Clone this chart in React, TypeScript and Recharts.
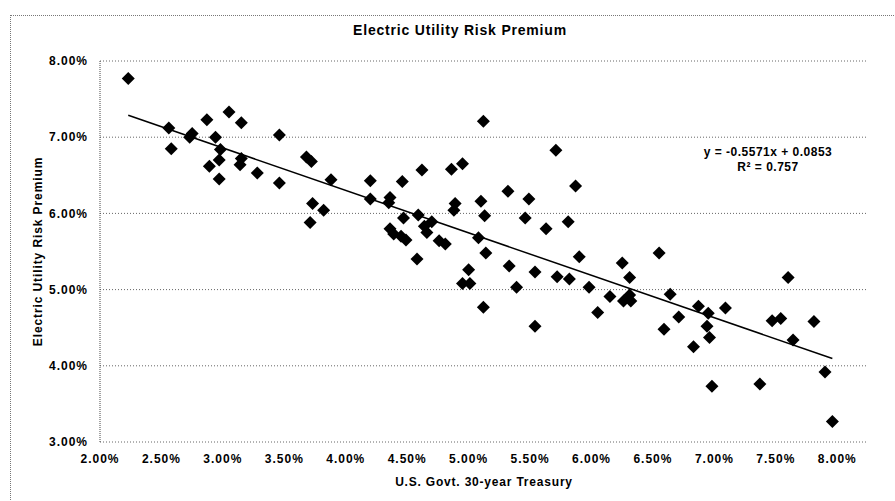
import React from 'react'
import {
  ScatterChart,
  Scatter,
  XAxis,
  YAxis,
  CartesianGrid,
  ReferenceLine,
  Label,
} from 'recharts'

// U.S. Govt. 30-year Treasury yields (x)
const treasury = [
  0.0223, 0.0256, 0.0258, 0.0275, 0.0273, 0.0287, 0.0305, 0.0315, 0.0294, 0.0298,
  0.0297, 0.0289, 0.0297, 0.0315, 0.0314, 0.0328, 0.0346, 0.0346, 0.0368, 0.0372,
  0.0388, 0.0373, 0.0382, 0.0371, 0.042, 0.042, 0.0436, 0.0435, 0.0446, 0.0462,
  0.0486, 0.0495, 0.0489, 0.0488, 0.0447, 0.0459, 0.047, 0.0464, 0.0466, 0.0436,
  0.0439, 0.0445, 0.0449, 0.0476, 0.0481, 0.0458, 0.051, 0.0513, 0.0508, 0.0514,
  0.05, 0.0495, 0.0501, 0.0512, 0.0512, 0.0571, 0.0587, 0.0532, 0.0549, 0.0546,
  0.0563, 0.0581, 0.0533, 0.0554, 0.059, 0.0572, 0.0582, 0.0539, 0.0598, 0.0554,
  0.0605, 0.0615, 0.0625, 0.0631, 0.0655, 0.0626, 0.0632, 0.0631, 0.0664, 0.0659,
  0.0671, 0.076, 0.0687, 0.0695, 0.0709, 0.0694, 0.0696, 0.0683, 0.0747, 0.0754,
  0.0781, 0.0764, 0.079, 0.0698, 0.0737, 0.0796,
]

// Electric utility risk premium (y)
const premium = [
  0.0777, 0.0712, 0.0685, 0.0705, 0.07, 0.0723, 0.0733, 0.0719, 0.07, 0.0684,
  0.067, 0.0662, 0.0645, 0.0672, 0.0664, 0.0653, 0.0703, 0.064, 0.0674, 0.0668,
  0.0644, 0.0613, 0.0604, 0.0588, 0.0643, 0.0619, 0.0621, 0.0614, 0.0642, 0.0657,
  0.0658, 0.0665, 0.0613, 0.0604, 0.0594, 0.0598, 0.0589, 0.0583, 0.0575, 0.058,
  0.0573, 0.057, 0.0565, 0.0564, 0.056, 0.054, 0.0616, 0.0597, 0.0568, 0.0548,
  0.0526, 0.0508, 0.0508, 0.0477, 0.0721, 0.0683, 0.0636, 0.0629, 0.0619, 0.0594,
  0.058, 0.0589, 0.0531, 0.0523, 0.0543, 0.0517, 0.0514, 0.0503, 0.0503, 0.0452,
  0.047, 0.0491, 0.0535, 0.0516, 0.0548, 0.0485, 0.0485, 0.0493, 0.0494, 0.0448,
  0.0464, 0.0516, 0.0478, 0.0469, 0.0476, 0.0452, 0.0437, 0.0425, 0.0459, 0.0462,
  0.0458, 0.0434, 0.0392, 0.0373, 0.0376, 0.0327,
]

const xTicks = [0.02, 0.025, 0.03, 0.035, 0.04, 0.045, 0.05, 0.055, 0.06, 0.065, 0.07, 0.075, 0.08]
const yTicks = [0.03, 0.04, 0.05, 0.06, 0.07, 0.08]

// linear trendline as shown on the chart
const trendSlope = -0.5571
const trendIntercept = 0.0853

const points = treasury.map((x, i) => ({ x, y: premium[i] }))

const xMin = Math.min(...treasury)
const xMax = Math.max(...treasury)
const trendSegment = [
  { x: xMin, y: trendSlope * xMin + trendIntercept },
  { x: xMax, y: trendSlope * xMax + trendIntercept },
]

const font = '"Liberation Sans", Arial, sans-serif'
const pct = (v: number) => (v * 100).toFixed(2) + '%'

const tickStyle = { fontSize: 12, fontWeight: 700, fill: '#000', fontFamily: font, letterSpacing: 1 }
const axisTitle = { fontSize: 12, fontWeight: 700, fill: '#000', fontFamily: font, letterSpacing: 0.8 }

const Diamond = (props: any) => {
  const { cx, cy } = props
  const r = 6.5
  return (
    <polygon
      points={`${cx},${cy - r} ${cx + r},${cy} ${cx},${cy + r} ${cx - r},${cy}`}
      fill="#000"
    />
  )
}

export default function App() {
  return (
    <div style={{ position: 'absolute', left: 0, top: 0, width: 895, height: 501, background: '#fff', fontFamily: font }}>
      {/* outer chart frame */}
      <div
        style={{
          position: 'absolute',
          left: 10,
          top: 15,
          width: 885,
          height: 486,
          borderLeft: '1px dotted #777',
          borderTop: '1px dotted #777',
        }}
      />
      <div
        style={{
          position: 'absolute',
          left: 260,
          width: 400,
          top: 22,
          textAlign: 'center',
          fontSize: 14,
          fontWeight: 700,
          letterSpacing: 0.8,
        }}
      >
        Electric Utility Risk Premium
      </div>
      <div
        style={{
          position: 'absolute',
          left: 668,
          width: 200,
          top: 145,
          textAlign: 'center',
          fontSize: 12,
          fontWeight: 700,
          lineHeight: '15px',
          letterSpacing: 0.5,
        }}
      >
        y = -0.5571x + 0.0853
        <br />
        R² = 0.757
      </div>
      <ScatterChart
        width={895}
        height={501}
        margin={{ top: 61, right: 27, bottom: 0, left: 20 }}
        style={{ position: 'absolute', left: 0, top: 0 }}
      >
        <CartesianGrid vertical={false} stroke="#666" strokeDasharray="1 2" />
        <XAxis
          type="number"
          dataKey="x"
          domain={[0.02, 0.0825]}
          ticks={xTicks}
          tickFormatter={pct}
          allowDataOverflow
          height={59}
          axisLine={false}
          tickLine={false}
          tickSize={0}
          tickMargin={12}
          tick={tickStyle}
        >
          <Label
            value="U.S. Govt. 30-year Treasury"
            position="insideBottom"
            offset={15}
            fill="#000"
            style={axisTitle}
          />
        </XAxis>
        <YAxis
          type="number"
          dataKey="y"
          domain={[0.03, 0.08]}
          ticks={yTicks}
          tickFormatter={pct}
          allowDataOverflow
          width={80}
          axisLine={{ stroke: '#444', strokeDasharray: '1 1' }}
          tickLine={false}
          tickSize={0}
          tickMargin={12}
          tick={tickStyle}
        >
          <Label
            value="Electric Utility Risk Premium"
            angle={-90}
            position="insideLeft"
            offset={18}
            fill="#000"
            style={{ ...axisTitle, letterSpacing: 0.9, textAnchor: 'middle' }}
          />
        </YAxis>
        <Scatter data={points} shape={Diamond} isAnimationActive={false} />
        <ReferenceLine segment={trendSegment} stroke="#000" strokeWidth={1.5} />
      </ScatterChart>
    </div>
  )
}
